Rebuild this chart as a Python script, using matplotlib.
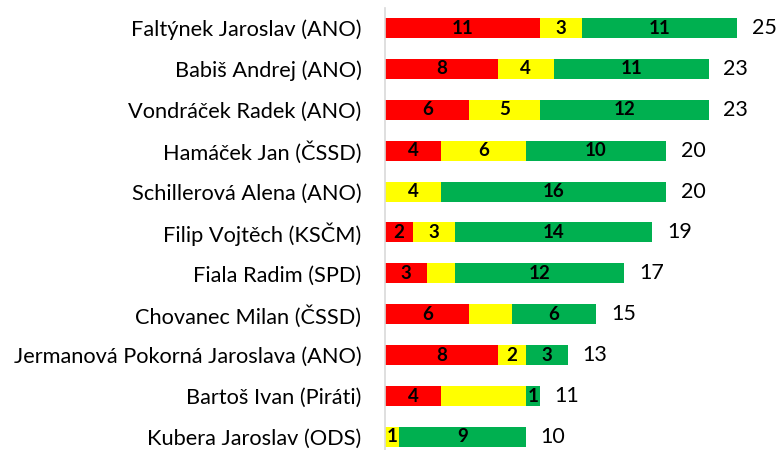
import matplotlib.pyplot as plt
import numpy as np

names = ['Faltýnek Jaroslav (ANO)', 'Babiš Andrej (ANO)', 'Vondráček Radek (ANO)',
         'Hamáček Jan (ČSSD)', 'Schillerová Alena (ANO)', 'Filip Vojtěch (KSČM)',
         'Fiala Radim (SPD)', 'Chovanec Milan (ČSSD)',
         'Jermanová Pokorná Jaroslava (ANO)', 'Bartoš Ivan (Piráti)',
         'Kubera Jaroslav (ODS)']
red = [11, 8, 6, 4, 0, 2, 3, 6, 8, 4, 0]
yellow = [3, 4, 5, 6, 4, 3, 2, 3, 2, 6, 1]
green = [11, 11, 12, 10, 16, 14, 12, 6, 3, 1, 9]
# segments that carry no value label in the original
yellow_shown = [True, True, True, True, True, True, False, False, True, False, True]

plt.rcParams['font.family'] = ['Lato', 'DejaVu Sans']

fig = plt.figure(figsize=(7.83, 4.5), dpi=100)
ax = fig.add_axes([385 / 783, 0, 394 / 783, 442 / 450])

y = np.arange(len(names))
red = np.array(red)
yellow = np.array(yellow)
green = np.array(green)
totals = red + yellow + green

h = 0.49
ax.barh(y, red, height=h, color='#FF0000')
ax.barh(y, yellow, left=red, height=h, color='#FFFF00')
ax.barh(y, green, left=red + yellow, height=h, color='#00B050')

lab = dict(ha='center', va='center', fontsize=13.5, fontweight='bold', color='black')
for i in range(len(names)):
    if red[i] > 0:
        ax.text(red[i] / 2, y[i], str(red[i]), **lab)
    if yellow[i] > 0 and yellow_shown[i]:
        ax.text(red[i] + yellow[i] / 2, y[i], str(yellow[i]), **lab)
    if green[i] > 0:
        ax.text(red[i] + yellow[i] + green[i] / 2, y[i], str(green[i]), **lab)
    ax.text(totals[i] + 1.05, y[i], str(totals[i]), ha='left', va='center', fontsize=15.5)

ax.set_xlim(0, 28)
ax.set_ylim(10.32, -0.49)
ax.set_yticks(y)
ax.set_yticklabels(names, fontsize=15.7)
ax.tick_params(axis='y', length=0, pad=17)
ax.set_xticks([])
for side in ['top', 'right', 'bottom']:
    ax.spines[side].set_visible(False)
ax.spines['left'].set_color('#D9D9D9')
ax.spines['left'].set_linewidth(1.2)

fig.savefig('out.png', dpi=100)
